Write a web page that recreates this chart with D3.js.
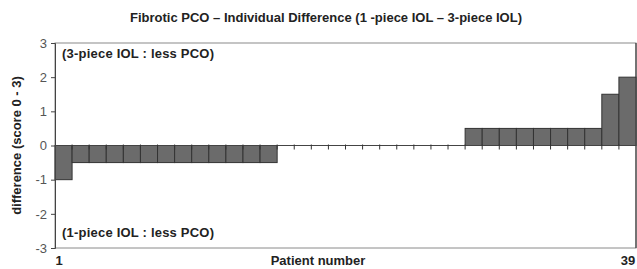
<!DOCTYPE html>
<html>
<head>
<meta charset="utf-8">
<style>
  body { margin: 0; background: #fff; }
  svg { display: block; }
  .title, .axis-title, .note, .end-label { font-family: "Liberation Sans Narrow", "Liberation Sans", Arial, sans-serif; font-weight: bold; fill: #222; }
  .y .tick text { font-family: "Liberation Sans", Arial, sans-serif; font-size: 13px; fill: #555; }
  .y .tick line, .y .domain { stroke: #444; }
</style>
</head>
<body>
<svg width="637" height="269"></svg>
<script src="https://d3js.org/d3.v7.min.js"></script>
<script>
// patient differences, 1-piece minus 3-piece (bars as seen left to right)
let patients = d3.range(1, 35)
let diffs = [-1, -0.5, -0.5, -0.5, -0.5, -0.5, -0.5, -0.5, -0.5, -0.5, -0.5, -0.5, -0.5,
             0, 0, 0, 0, 0, 0, 0, 0, 0, 0, 0,
             0.5, 0.5, 0.5, 0.5, 0.5, 0.5, 0.5, 0.5, 1.5, 2]
let yTicks = [-3, -2, -1, 0, 1, 2, 3]

let margin = { top: 43, right: 1, bottom: 21, left: 55 }
let width = 637, height = 269

let svg = d3.select("svg")

let x = d3.scaleBand().domain(patients).range([margin.left, width - margin.right]).padding(0)
let y = d3.scaleLinear().domain([-3, 3]).range([height - margin.bottom, margin.top])

// plot frame
svg.append("rect")
    .attr("x", margin.left)
    .attr("y", margin.top)
    .attr("width", width - margin.right - margin.left)
    .attr("height", height - margin.bottom - margin.top)
    .attr("fill", "none")
    .attr("stroke", "#8a8a8a")

svg.append("line")
    .attr("x1", width - margin.right).attr("x2", width - margin.right)
    .attr("y1", margin.top).attr("y2", height - margin.bottom)
    .attr("stroke", "#222")

// bars
svg.append("g")
    .selectAll("rect")
    .data(diffs.map((v, i) => ({ p: patients[i], v: v })).filter(d => d.v != 0))
    .join("rect")
    .attr("x", d => x(d.p))
    .attr("width", x.bandwidth())
    .attr("y", d => y(Math.max(0, d.v)))
    .attr("height", d => Math.abs(y(d.v) - y(0)))
    .attr("fill", "#6b6b6b")
    .attr("stroke", "#333")
    .attr("stroke-width", 1)

// zero line + category ticks
svg.append("line")
    .attr("x1", margin.left).attr("x2", width - margin.right)
    .attr("y1", y(0)).attr("y2", y(0))
    .attr("stroke", "#444")

svg.append("g")
    .selectAll("line")
    .data(patients.slice(1))
    .join("line")
    .attr("x1", d => x(d)).attr("x2", d => x(d))
    .attr("y1", y(0) - 1).attr("y2", y(0) + 4)
    .attr("stroke", "#333")

// y axis
svg.append("g")
    .attr("class", "y")
    .attr("transform", `translate(${margin.left},0)`)
    .call(d3.axisLeft(y).tickValues(yTicks).tickSize(4).tickPadding(4).tickFormat(d => String(d)))

// labels
svg.append("text")
    .attr("class", "title")
    .attr("x", 326).attr("y", 22)
    .attr("text-anchor", "middle")
    .attr("font-size", 13)
    .text("Fibrotic PCO – Individual Difference (1 -piece IOL  – 3-piece IOL)")

svg.append("text")
    .attr("class", "note")
    .attr("x", 62).attr("y", 58)
    .attr("font-size", 13)
    .attr("textLength", 152)
    .text("(3-piece IOL : less PCO)")

svg.append("text")
    .attr("class", "note")
    .attr("x", 62).attr("y", 237)
    .attr("font-size", 13)
    .attr("textLength", 152)
    .text("(1-piece IOL : less PCO)")

svg.append("text")
    .attr("class", "axis-title")
    .attr("transform", `translate(21,${y(0)}) rotate(-90)`)
    .attr("text-anchor", "middle")
    .attr("font-size", 13)
    .text("difference (score 0 - 3)")

svg.append("text")
    .attr("class", "axis-title")
    .attr("x", 318).attr("y", 265)
    .attr("text-anchor", "middle")
    .attr("font-size", 13)
    .text("Patient number")

svg.append("text")
    .attr("class", "end-label")
    .attr("x", x(patients[0]) + 4).attr("y", 265)
    .attr("text-anchor", "middle")
    .attr("font-size", 13)
    .text("1")

svg.append("text")
    .attr("class", "end-label")
    .attr("x", width - 9).attr("y", 265)
    .attr("text-anchor", "middle")
    .attr("font-size", 13)
    .text("39")
</script>
</body>
</html>
